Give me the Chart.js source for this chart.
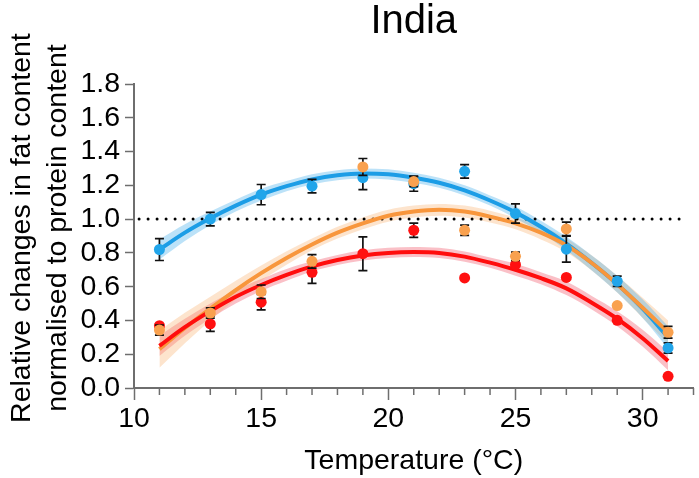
<!DOCTYPE html>
<html>
<head>
<meta charset="utf-8">
<script src="https://cdn.jsdelivr.net/npm/chart.js@4"></script>
<style>
  html, body { margin: 0; padding: 0; background: #fff; }
  #wrap { width: 699px; height: 478px; position: relative; }
</style>
</head>
<body>
<div id="wrap"><canvas id="chart"></canvas></div>
<script>
var temps = [11, 13, 15, 17, 19, 21, 23, 25, 27, 29, 31];
var blueMean = [0.82, 1.00, 1.145, 1.195, 1.245, 1.21, 1.283, 1.033, 0.822, 0.632, 0.237];
var blueErr = [0.065, 0.04, 0.06, 0.04, 0.07, 0.045, 0.04, 0.057, 0.077, 0.03, 0.03];
var orangeMean = [0.343, 0.444, 0.570, 0.75, 1.309, 1.222, 0.934, 0.78, 0.942, 0.488, 0.33];
var orangeErr = [0.03, 0.03, 0.04, 0.04, 0.05, 0.03, 0.03, 0.025, 0.04, 0, 0.035];
var redMean = [0.369, 0.380, 0.508, 0.685, 0.795, 0.934, 0.652, 0.73, 0.655, 0.401, 0.069];
var redErr = [0.01, 0.045, 0.046, 0.065, 0.1, 0.042, 0, 0, 0, 0, 0];

// fitted curves and their confidence half-widths
var fitTemps = [11, 12, 13, 14, 15, 16, 17, 18, 19, 20, 21, 22, 23, 24, 25, 26, 27, 28, 29, 30, 31];
var blueFit = [0.82, 0.92, 1.005, 1.08, 1.145, 1.195, 1.235, 1.26, 1.27, 1.265, 1.245, 1.215, 1.17, 1.11, 1.04, 0.955, 0.855, 0.74, 0.615, 0.47, 0.30];
var blueBand = [0.06, 0.05, 0.04, 0.035, 0.035, 0.03, 0.03, 0.03, 0.03, 0.03, 0.03, 0.03, 0.03, 0.03, 0.035, 0.035, 0.04, 0.045, 0.05, 0.055, 0.065];
var orangeFit = [0.23, 0.355, 0.47, 0.58, 0.68, 0.77, 0.85, 0.92, 0.975, 1.02, 1.045, 1.055, 1.045, 1.015, 0.975, 0.92, 0.845, 0.74, 0.615, 0.475, 0.33];
var orangeBand = [0.11, 0.09, 0.07, 0.055, 0.045, 0.04, 0.035, 0.035, 0.035, 0.035, 0.035, 0.035, 0.035, 0.035, 0.035, 0.04, 0.04, 0.045, 0.05, 0.06, 0.07];
var redFit = [0.25, 0.36, 0.455, 0.54, 0.61, 0.67, 0.72, 0.758, 0.785, 0.80, 0.805, 0.80, 0.778, 0.742, 0.70, 0.65, 0.59, 0.505, 0.41, 0.295, 0.16];
var redBand = [0.06, 0.05, 0.045, 0.04, 0.035, 0.035, 0.03, 0.03, 0.03, 0.03, 0.03, 0.03, 0.03, 0.03, 0.035, 0.035, 0.04, 0.04, 0.045, 0.05, 0.055];

var refLine = [{x: 10.2, y: 1}, {x: 31.6, y: 1}];
var xTicks = [10, 15, 20, 25, 30];
var xMinorTicks = [11, 12, 13, 14, 16, 17, 18, 19, 21, 22, 23, 24, 26, 27, 28, 29, 31, 32];
var yTicks = [0, 0.2, 0.4, 0.6, 0.8, 1.0, 1.2, 1.4, 1.6, 1.8];

var FONT = 'Arial, "Liberation Sans", sans-serif';
var AXIS = '#6e6e6e';

function pts(xs, ys) {
    return xs.map(function (x, i) { return {x: x, y: ys[i]}; });
}
function shifted(xs, ys, d, sign) {
    return xs.map(function (x, i) { return {x: x, y: ys[i] + sign * d[i]}; });
}

function bandPair(fit, half, color) {
    return [
        {type: 'line', data: shifted(fitTemps, fit, half, 1), borderWidth: 0, pointRadius: 0,
         cubicInterpolationMode: 'monotone', fill: false, order: 4},
        {type: 'line', data: shifted(fitTemps, fit, half, -1), borderWidth: 0, pointRadius: 0,
         cubicInterpolationMode: 'monotone', fill: '-1', backgroundColor: color, order: 4}
    ];
}

function curve(fit, color) {
    return {type: 'line', data: pts(fitTemps, fit), borderColor: color, borderWidth: 4,
            pointRadius: 0, cubicInterpolationMode: 'monotone', fill: false, order: 1};
}

function means(ys, errs, color) {
    return {type: 'scatter', data: pts(temps, ys), errors: errs, backgroundColor: color,
            borderWidth: 0, pointRadius: 5.5, order: 0};
}

// points first (drawn last, on top), then curves, then ref line, then bands
var datasets = [
    means(orangeMean, orangeErr, '#f9a14f'),
    means(blueMean, blueErr, '#21a5ea'),
    means(redMean, redErr, '#ff1010'),
    curve(redFit, '#ff0d0d'),
    curve(orangeFit, '#f8963c'),
    curve(blueFit, '#1c9de6'),
    {type: 'line', data: refLine, borderColor: '#000', borderWidth: 3, borderDash: [0, 9],
     borderCapStyle: 'round', pointRadius: 0, fill: false, order: 2}
].concat(bandPair(blueFit, blueBand, 'rgba(60,170,235,0.34)'))
 .concat(bandPair(orangeFit, orangeBand, 'rgba(250,170,100,0.32)'))
 .concat(bandPair(redFit, redBand, 'rgba(240,60,80,0.32)'));

var errorBars = {
    id: 'errorBars',
    beforeDatasetDraw: function (chart, args) {
        var ds = chart.data.datasets[args.index];
        if (!ds.errors) return;
        var ctx = chart.ctx, x = chart.scales.x, y = chart.scales.y;
        ctx.save();
        ctx.strokeStyle = '#111';
        ctx.lineWidth = 1.7;
        ds.data.forEach(function (p, i) {
            var e = ds.errors[i];
            if (!e) return;
            var px = x.getPixelForValue(p.x);
            var top = y.getPixelForValue(p.y + e);
            var bot = y.getPixelForValue(p.y - e);
            ctx.beginPath();
            ctx.moveTo(px, top); ctx.lineTo(px, bot);
            ctx.moveTo(px - 4.5, top); ctx.lineTo(px + 4.5, top);
            ctx.moveTo(px - 4.5, bot); ctx.lineTo(px + 4.5, bot);
            ctx.stroke();
        });
        ctx.restore();
    }
};

var minorTicks = {
    id: 'minorTicks',
    afterDraw: function (chart) {
        var ctx = chart.ctx, x = chart.scales.x;
        var yb = chart.chartArea.bottom;
        ctx.save();
        ctx.strokeStyle = AXIS;
        ctx.lineWidth = 1.5;
        xMinorTicks.forEach(function (v) {
            var px = x.getPixelForValue(v);
            ctx.beginPath();
            ctx.moveTo(px, yb);
            ctx.lineTo(px, yb + 7);
            ctx.stroke();
        });
        ctx.restore();
    }
};

new Chart(document.getElementById('chart'), {
    type: 'scatter',
    data: {datasets: datasets},
    plugins: [errorBars, minorTicks],
    options: {
        responsive: true,
        maintainAspectRatio: false,
        animation: false,
        layout: {padding: 0},
        plugins: {
            legend: {display: false},
            tooltip: {enabled: false},
            title: {
                display: true,
                text: 'India',
                fullSize: false,
                color: '#000',
                font: {family: FONT, size: 40, weight: 'normal', lineHeight: 1.1},
                padding: {top: 0, bottom: 40}
            },
            // x-axis title, placed under the tick labels
            subtitle: {
                display: true,
                position: 'bottom',
                text: 'Temperature (°C)',
                fullSize: false,
                color: '#000',
                font: {family: FONT, size: 28.5, weight: 'normal', lineHeight: 1.2},
                padding: {top: 0, bottom: 0}
            }
        },
        scales: {
            x: {
                type: 'linear',
                min: 10,
                max: 32,
                afterBuildTicks: function (s) { s.ticks = xTicks.map(function (v) { return {value: v}; }); },
                afterFit: function (s) { s.height = 55.8; },
                border: {color: AXIS, width: 2},
                grid: {drawOnChartArea: false, drawTicks: true, tickLength: 12, tickColor: AXIS, tickWidth: 1.5},
                ticks: {color: '#000', padding: 2, maxRotation: 0, autoSkip: false, font: {family: FONT, size: 28.5}}
            },
            y: {
                min: 0,
                max: 1.8,
                afterBuildTicks: function (s) { s.ticks = yTicks.map(function (v) { return {value: v}; }); },
                afterFit: function (s) { s.width = 134; },
                border: {color: AXIS, width: 2},
                grid: {drawOnChartArea: false, drawTicks: true, tickLength: 9, tickColor: AXIS, tickWidth: 1.5},
                ticks: {color: '#000', padding: 5, autoSkip: false, font: {family: FONT, size: 28.5},
                        callback: function (v) { return v.toFixed(1); }},
                title: {display: true, text: ['  Relative changes in fat content', '  normalised to protein content'],
                        color: '#000', font: {family: FONT, size: 28.5, lineHeight: 1.26},
                        padding: {top: 4, bottom: 0}}
            }
        }
    }
});
</script>
</body>
</html>
